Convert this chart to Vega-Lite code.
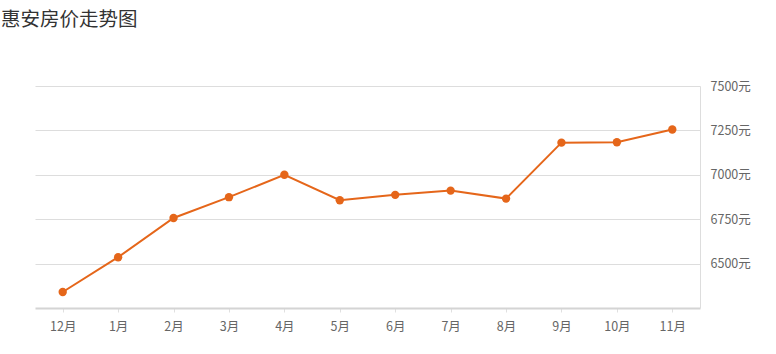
{
  "$schema": "https://vega.github.io/schema/vega-lite/v6.json",
  "width": 665,
  "height": 222,
  "autosize": {"type": "none"},
  "padding": {"left": 35, "top": 86, "right": 76, "bottom": 46},
  "background": "#ffffff",
  "title": {
    "text": "惠安房价走势图",
    "anchor": "start",
    "frame": "group",
    "dx": -34,
    "offset": 50,
    "font": "Noto Sans CJK SC",
    "fontSize": 19.5,
    "fontWeight": "normal",
    "color": "#333333"
  },
  "config": {
    "view": {"stroke": null},
    "font": "Noto Sans CJK SC"
  },
  "data": {
    "values": [
      {"month": "12月", "price": 6340},
      {"month": "1月", "price": 6536},
      {"month": "2月", "price": 6757},
      {"month": "3月", "price": 6874},
      {"month": "4月", "price": 7000},
      {"month": "5月", "price": 6857},
      {"month": "6月", "price": 6887},
      {"month": "7月", "price": 6911},
      {"month": "8月", "price": 6866},
      {"month": "9月", "price": 7181},
      {"month": "10月", "price": 7183},
      {"month": "11月", "price": 7255}
    ]
  },
  "encoding": {
    "x": {
      "field": "month",
      "type": "ordinal",
      "sort": null,
      "scale": {"type": "point", "padding": 0.5},
      "axis": {
        "title": null,
        "labelAngle": 0,
        "labelFontSize": 12.5,
        "labelColor": "#666666",
        "labelPadding": 8,
        "domainColor": "#d4d4d4",
        "domainWidth": 2,
        "tickColor": "#e0e0e0",
        "tickSize": 4,
        "grid": false
      }
    },
    "y": {
      "field": "price",
      "type": "quantitative",
      "scale": {"domain": [6250, 7500], "zero": false, "nice": false},
      "axis": {
        "orient": "right",
        "title": null,
        "values": [6500, 6750, 7000, 7250, 7500],
        "labelExpr": "datum.value + '元'",
        "labelFontSize": 12.5,
        "labelColor": "#666666",
        "labelPadding": 10,
        "ticks": false,
        "domainColor": "#dddddd",
        "domainWidth": 1,
        "gridColor": "#dddddd",
        "grid": true
      }
    }
  },
  "layer": [
    {
      "mark": {"type": "line", "color": "#e5661a", "strokeWidth": 2}
    },
    {
      "mark": {"type": "point", "filled": true, "color": "#e5661a", "opacity": 1, "size": 70}
    }
  ]
}
